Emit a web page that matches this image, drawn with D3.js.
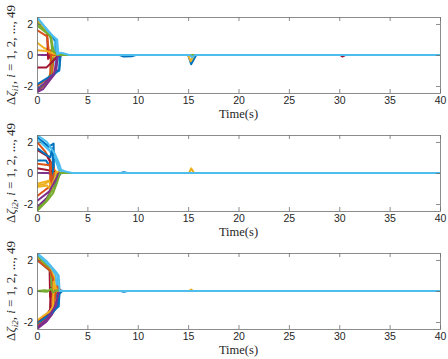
<!DOCTYPE html>
<html>
<head>
<meta charset="utf-8">
<script src="https://cdn.jsdelivr.net/npm/d3@7"></script>
<style>
  body { margin: 0; background: #fff; }
</style>
</head>
<body>
<script>
// axis values
const timeTicks = [0, 5, 10, 15, 20, 25, 30, 35, 40];
const valueTicks = [-2, 0, 2];
const timeRange = [0, 40];
const valueRange = [-2.45, 2.45];
const labelSubs = ["i1", "i2", "i2"];

// each trajectory: [time, value] knots, last value held to the end
const zeta1 = [
  [[0,-2.2],[1.2,-1.6],[2.0,-1.0],[2.2,-1.0],[2.35,0],[8.2,0],[8.6,-0.1],[9.4,-0.08],[9.8,0],[15.0,0],[15.3,-0.6],[15.8,0]],
  [[0,-2.35],[1.0,-1.8],[1.5,-1.3],[1.65,-0.1],[2.0,0]],
  [[0,0.8],[0.7,0.45],[1.3,0.3],[1.8,0.1],[2.3,0],[15.0,0],[15.25,-0.4],[15.6,0]],
  [[0,0],[1.2,0],[1.7,0.05],[2.2,0]],
  [[0,-2.3],[0.9,-1.8],[1.4,-1.1],[1.5,-0.1],[1.9,0.05],[2.4,0]],
  [[0,2.3],[1.2,1.4],[1.75,0.9],[1.85,-0.9],[2.2,0]],
  [[0,2.2],[1.0,1.5],[1.1,-0.25],[1.5,0.05],[2.0,0]],
  [[0,2.35],[1.5,1.2],[1.9,0.9],[2.0,-0.2],[2.3,0]],
  [[0,-2.0],[1.3,-1.4],[1.4,0.3],[1.8,0]],
  [[0,2.3],[1.4,1.1],[1.6,-0.1],[2.0,0]],
  [[0,-2.4],[0.6,-2.2],[1.3,-1.6],[1.9,-1.1],[2.05,0],[2.5,0]],
  [[0,1.9],[1.4,1.2],[1.5,0.2],[1.9,0]],
  [[0,2.4],[1.6,1.2],[2.0,1.0],[2.15,-0.1],[2.5,0.1],[3.0,0]],
  [[0,-0.8],[0.95,-0.8],[1.5,-0.45],[2.0,-0.1],[2.5,0],[30.1,0],[30.3,-0.1],[30.6,0]],
  [[0,-1.9],[1.5,-1.3],[2.2,-1.0],[2.3,0.1],[2.8,0]],
  [[0,1.6],[1.0,1.2],[1.2,0.1],[1.6,0]],
  [[0,0.3],[1.0,0.25],[1.6,0.1],[2.1,0]],
  [[0,-2.3],[1.1,-1.6],[1.7,-1.2],[2.0,-0.1],[2.4,0]],
  [[0,2.1],[1.3,1.2],[1.7,0.2],[2.0,0]],
  [[0,2.45],[1.0,1.6],[1.9,1.0],[2.0,0.05],[2.4,0.15],[3.2,0],[15.2,0],[15.4,-0.15],[15.7,0]]
];

const zeta2 = [
  [[0,0.8],[0.9,0.8],[1.2,0.5],[1.5,0.2],[2.0,0],[8.3,0],[8.6,0.05],[9.0,0]],
  [[0,2.0],[0.8,1.4],[1.3,0.8],[1.35,-0.8],[1.8,-0.2],[2.3,0]],
  [[0,-0.8],[0.8,-0.7],[1.4,-0.4],[1.8,-0.1],[2.2,0],[15.1,0],[15.3,0.3],[15.6,0]],
  [[0,0],[1.1,0],[1.5,-0.1],[2.0,0]],
  [[0,-2.4],[0.6,-2.0],[1.2,-1.4],[1.7,-0.6],[2.1,0]],
  [[0,2.3],[1.0,1.7],[1.8,0.9],[2.2,0.2],[2.5,0]],
  [[0,1.5],[1.0,1.1],[1.4,0.6],[1.45,-0.6],[1.9,0]],
  [[0,2.3],[1.2,1.7],[1.65,1.9],[1.7,-0.9],[2.0,-0.3],[2.4,0]],
  [[0,-1.5],[1.0,-1.0],[1.3,-0.9],[1.4,0.7],[1.8,0.1],[2.2,0]],
  [[0,-0.9],[1.0,-0.8],[1.5,-1.2],[1.6,0.1],[2.0,0]],
  [[0,-2.2],[1.0,-1.6],[1.6,-0.9],[2.0,0]],
  [[0,-2.3],[0.8,-1.9],[1.5,-1.1],[1.9,-0.3],[2.3,0.2],[2.7,0]],
  [[0,2.2],[1.3,1.4],[2.0,0.8],[2.2,0.1],[2.6,0.15],[3.0,0]],
  [[0,0.3],[1.0,0.2],[1.5,0.1],[2.0,0]],
  [[0,1.6],[1.3,1.0],[1.55,1.6],[1.6,-0.3],[2.0,0]],
  [[0,0.6],[1.3,0.5],[1.4,-0.6],[1.7,0]],
  [[0,-0.7],[1.2,-0.5],[1.4,-1.0],[1.7,-0.6],[1.9,0.1],[2.3,0]],
  [[0,-1.8],[1.2,-1.2],[1.8,-0.5],[2.2,0]],
  [[0,-2.45],[1.0,-1.8],[1.6,-1.3],[2.0,-0.6],[2.3,0]],
  [[0,2.45],[1.0,2.0],[1.8,1.2],[2.2,0.6],[2.4,0.2],[2.8,0.1],[3.5,0]]
];

const zeta3 = [
  [[0,-2.2],[1.2,-1.6],[2.0,-1.0],[2.15,-1.0],[2.25,0],[8.3,0],[8.6,-0.05],[9.0,0]],
  [[0,2.2],[1.2,1.5],[1.5,1.0],[1.55,-1.2],[1.9,-0.3],[2.2,0]],
  [[0,-2.2],[1.2,-1.6],[1.7,-1.3],[1.75,0.1],[2.1,0],[15.1,0],[15.3,0.1],[15.5,0]],
  [[0,-2.4],[0.8,-2.0],[1.4,-1.5],[1.9,-0.8],[2.1,0],[2.4,0]],
  [[0,0],[0.8,0.05],[1.2,0],[1.5,0.2],[1.7,-0.1],[2.0,0.05],[2.4,0]],
  [[0,2.3],[1.2,1.6],[1.8,1.1],[2.0,0.1],[2.4,0]],
  [[0,2.1],[1.0,1.6],[1.25,1.4],[1.3,-0.4],[1.7,0]],
  [[0,2.0],[1.3,1.3],[1.5,1.0],[1.6,-0.9],[2.0,-0.2],[2.3,0]],
  [[0,-2.3],[1.2,-1.5],[1.5,-1.2],[1.55,0.1],[1.9,0]],
  [[0,2.2],[1.3,1.4],[1.7,0.9],[1.75,-1.0],[2.0,-0.5],[2.3,0]],
  [[0,-2.45],[0.9,-2.0],[1.5,-1.5],[2.0,-0.9],[2.15,0],[2.5,0]],
  [[0,2.3],[1.0,1.6],[1.4,1.2],[1.45,0.1],[1.8,0]],
  [[0,2.4],[1.3,1.6],[2.0,1.1],[2.1,0.1],[2.6,0]],
  [[0,-2.0],[1.0,-1.5],[1.3,-1.2],[1.35,0.2],[1.7,0]],
  [[0,-2.1],[1.5,-1.4],[2.1,-1.0],[2.2,-0.2],[2.5,0]],
  [[0,2.0],[1.3,1.3],[1.6,0.8],[1.65,-0.8],[2.0,0.3],[2.4,0]],
  [[0,-1.9],[1.3,-1.3],[1.6,-1.0],[1.65,0.6],[2.0,0]],
  [[0,-2.35],[1.0,-1.8],[1.7,-1.1],[2.05,-0.4],[2.2,0]],
  [[0,0],[1.0,-0.05],[1.4,0.15],[1.6,-0.1],[1.9,0.05],[2.2,0]],
  [[0,2.45],[1.0,1.9],[1.8,1.3],[2.15,1.0],[2.25,0],[3.5,0]]
];

var colors = ["#0072BD", "#D95319", "#EDB120", "#7E2F8E", "#77AC30", "#4DBEEE", "#A2142F"];

var width = 448, height = 359;
var left = 37, plotW = 403, plotH = 76;
var tops = [17, 135, 253];

var svg = d3.select("body").append("svg")
    .attr("width", width)
    .attr("height", height)
    .style("font-family", "'Liberation Sans', Arial, sans-serif");

var x = d3.scaleLinear().domain(timeRange).range([0, plotW]);
var y = d3.scaleLinear().domain(valueRange).range([plotH, 0]);

var line = d3.line()
    .x(function(d) { return x(d[0]); })
    .y(function(d) { return y(d[1]); });

svg.append("defs").append("clipPath").attr("id", "clip")
  .append("rect").attr("width", plotW).attr("height", plotH);

[zeta1, zeta2, zeta3].forEach(function(series, p) {
  var g = svg.append("g")
      .attr("transform", "translate(" + left + "," + tops[p] + ")");

  var lines = g.append("g").attr("clip-path", "url(#clip)");
  series.forEach(function(pts, i) {
    var last = pts[pts.length - 1];
    var full = pts.concat([[timeRange[1], last[1]]]);
    lines.append("path")
        .datum(full)
        .attr("fill", "none")
        .attr("stroke", colors[i % colors.length])
        .attr("stroke-width", 2)
        .attr("stroke-linejoin", "round")
        .attr("d", line);
  });

  var fmt = function(d) { return d < 0 ? "-" + Math.abs(d) : d; };

  g.append("g")
      .attr("transform", "translate(0," + plotH + ")")
      .call(d3.axisBottom(x).tickValues(timeTicks).tickSizeInner(-4).tickSizeOuter(0).tickPadding(4));
  g.append("g")
      .call(d3.axisTop(x).tickValues(timeTicks).tickSizeInner(-4).tickSizeOuter(0).tickFormat(""));
  g.append("g")
      .call(d3.axisLeft(y).tickValues(valueTicks).tickSizeInner(-4).tickSizeOuter(0).tickPadding(4).tickFormat(fmt));
  g.append("g")
      .attr("transform", "translate(" + plotW + ",0)")
      .call(d3.axisRight(y).tickValues(valueTicks).tickSizeInner(-4).tickSizeOuter(0).tickFormat(""));

  g.selectAll(".domain").attr("stroke", "#6e6e6e").attr("stroke-width", 0.8);
  g.selectAll(".tick line").attr("stroke", "#6e6e6e").attr("stroke-width", 0.8);
  g.selectAll(".tick text")
      .attr("fill", "#262626")
      .style("font-size", "10.5px")
      .style("font-family", "'Liberation Sans', Arial, sans-serif");

  // x label
  g.append("text")
      .attr("x", plotW / 2)
      .attr("y", plotH + 25)
      .attr("text-anchor", "middle")
      .style("font-family", "'Liberation Serif', 'DejaVu Serif', serif")
      .style("font-size", "12.5px")
      .attr("fill", "#262626")
      .text("Time(s)");

  // y label
  var yl = g.append("text")
      .attr("transform", "translate(" + (15 - left) + "," + (plotH / 2) + ") rotate(-90)")
      .attr("text-anchor", "middle")
      .style("font-family", "'Liberation Serif', 'DejaVu Serif', serif")
      .style("font-size", "13px")
      .attr("fill", "#262626");
  yl.append("tspan").text("Δ");
  yl.append("tspan").style("font-style", "italic").text("ζ");
  yl.append("tspan").style("font-style", "italic").style("font-size", "9px").attr("dy", 2.5).text(labelSubs[p]);
  yl.append("tspan").attr("dy", -2.5).text(", ");
  yl.append("tspan").style("font-style", "italic").text("i");
  yl.append("tspan").text(" = 1, 2, ..., 49");
});
</script>
</body>
</html>
